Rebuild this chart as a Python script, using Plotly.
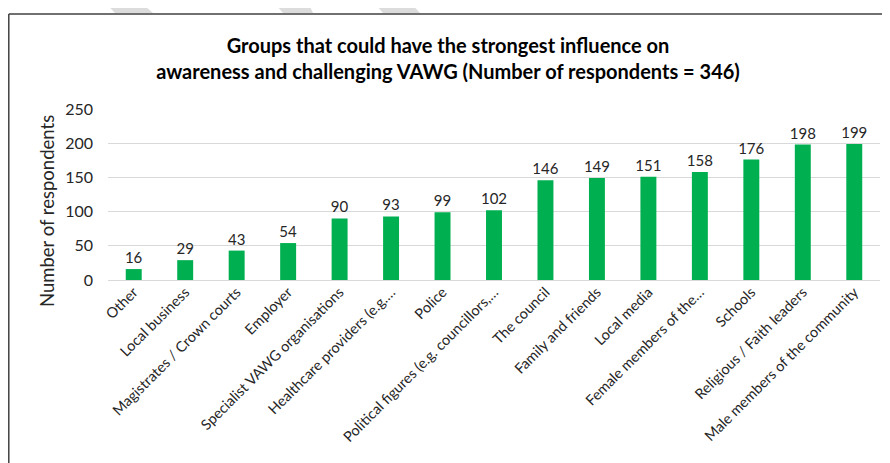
import plotly.graph_objects as go

categories = [
    "Other",
    "Local business",
    "Magistrates / Crown courts",
    "Employer",
    "Specialist VAWG organisations",
    "Healthcare providers (e.g.…",
    "Police",
    "Political figures (e.g. councillors,…",
    "The council",
    "Family and friends",
    "Local media",
    "Female members of the…",
    "Schools",
    "Religious / Faith leaders",
    "Male members of the community",
]
respondents = [16, 29, 43, 54, 90, 93, 99, 102, 146, 149, 151, 158, 176, 198, 199]

y_ticks = [0, 50, 100, 150, 200, 250]

title_text = (
    "<b>Groups that could have the strongest influence on<br>"
    "awareness and challenging VAWG (Number of respondents = 346)</b>"
)

# the page body has an 8px margin, so the figure is shrunk by that much
OFF = 8
W, H = 890 - OFF, 463 - OFF
ML, MR, MT, MB = 100, 10, 101, 183
PW, PH = W - ML - MR, H - MT - MB


def px(x):
    # page pixel x -> paper fraction
    return (x - OFF - ML) / PW


def py(y):
    # page pixel y -> paper fraction
    return (H - MB - (y - OFF)) / PH


FONT = "Lato, 'Open Sans', sans-serif"

fig = go.Figure(
    go.Bar(
        x=categories,
        y=respondents,
        marker=dict(color="#00B050", line=dict(width=0)),
        text=respondents,
        textposition="outside",
        constraintext="none",
        textfont=dict(size=15, color="#262626", family=FONT),
        cliponaxis=False,
    )
)

# chart frame (left and top edges visible in the crop) and faint stripes above it
shapes = [
    dict(type="line", xref="paper", yref="paper",
         x0=px(8.8), y0=py(470), x1=px(8.8), y1=py(14),
         line=dict(color="#404040", width=1.5)),
    dict(type="line", xref="paper", yref="paper",
         x0=px(8.8), y0=py(14), x1=px(900), y1=py(14),
         line=dict(color="#404040", width=1.5)),
]
for top_l, top_r, bot_l, bot_r in [(103, 138, 115, 153), (272, 307, 283, 313), (372, 408, 383, 420)]:
    shapes.append(dict(
        type="path", xref="paper", yref="paper",
        path=(f"M {px(top_l)} {py(0)} L {px(top_r)} {py(0)} "
              f"L {px(bot_r)} {py(13)} L {px(bot_l)} {py(13)} Z"),
        fillcolor="#DCDCDC", line=dict(width=0), layer="below",
    ))

fig.update_layout(
    width=W,
    height=H,
    margin=dict(l=ML, r=MR, t=MT, b=MB, autoexpand=False),
    paper_bgcolor="white",
    plot_bgcolor="white",
    font=dict(family=FONT, color="#262626"),
    title=dict(
        text=title_text,
        x=(448 - OFF) / W,
        xref="container",
        xanchor="center",
        y=1 - 44.5 / H,
        yref="container",
        yanchor="middle",
        automargin=False,
        font=dict(size=20, color="#000000", family=FONT),
    ),
    bargap=0.69,
    showlegend=False,
    shapes=shapes,
    annotations=[
        dict(
            text="Number of respondents",
            xref="paper", yref="paper",
            x=px(47), y=py(211),
            xanchor="center", yanchor="middle",
            textangle=-90,
            showarrow=False,
            font=dict(size=18.5, color="#262626", family=FONT),
        )
    ],
)

fig.update_xaxes(
    tickangle=-45,
    tickfont=dict(size=14.5, color="#262626", family=FONT),
    showline=False,
    ticks="",
    automargin=False,
)
fig.update_yaxes(
    range=[0, 250],
    tickvals=y_ticks,
    tickfont=dict(size=16, color="#262626", family=FONT),
    showgrid=True,
    gridcolor="#D9D9D9",
    gridwidth=1,
    zeroline=True,
    zerolinecolor="#D9D9D9",
    zerolinewidth=1,
    ticklabelstandoff=14,
    showline=False,
    automargin=False,
)

fig.write_html("out.html")
